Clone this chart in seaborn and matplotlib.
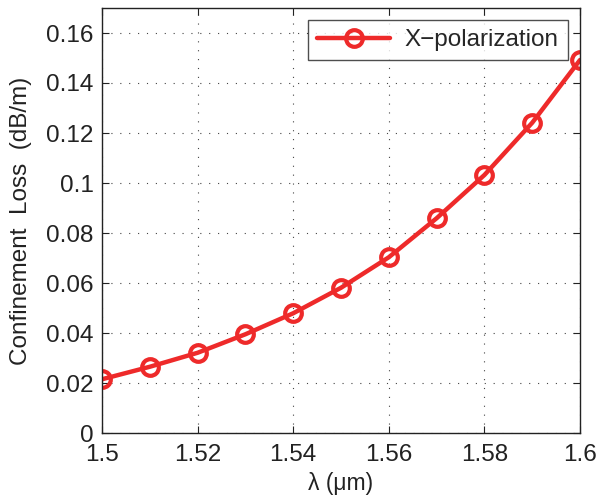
import matplotlib
matplotlib.use("Agg")
import matplotlib.pyplot as plt
import seaborn as sns
import pandas as pd

wavelength = [1.50, 1.51, 1.52, 1.53, 1.54, 1.55, 1.56, 1.57, 1.58, 1.59, 1.60]
loss = [0.0215, 0.0265, 0.0321, 0.0395, 0.0479, 0.0581, 0.0703, 0.0859, 0.1032, 0.1241, 0.1492]
series_name = "X\u2212polarization"
xticks = [1.50, 1.52, 1.54, 1.56, 1.58, 1.60]
xticklabels = ["1.5", "1.52", "1.54", "1.56", "1.58", "1.6"]
yticks = [0, 0.02, 0.04, 0.06, 0.08, 0.10, 0.12, 0.14, 0.16]
yticklabels = ["0", "0.02", "0.04", "0.06", "0.08", "0.1", "0.12", "0.14", "0.16"]

sns.set_theme(style="white")
plt.rcParams['font.family'] = ['Liberation Sans', 'DejaVu Sans']

df = pd.DataFrame({"wl": wavelength, "loss": loss, "series": series_name})

fig = plt.figure(figsize=(5.97, 5.00), dpi=100)
ax = fig.add_axes([0.171, 0.134, 0.8005, 0.85])

sns.lineplot(data=df, x="wl", y="loss", hue="series", palette=["#EE2A2A"],
             marker="o", markersize=12, markerfacecolor="none",
             markeredgewidth=3, markeredgecolor="#EE2A2A",
             linewidth=3.2, ax=ax)

ax.set_xlim(1.5, 1.6)
ax.set_ylim(0, 0.17)
ax.set_xticks(xticks)
ax.set_xticklabels(xticklabels)
ax.set_yticks(yticks)
ax.set_yticklabels(yticklabels)
ax.tick_params(direction="in", length=5, width=0.8, colors="#222222",
               labelsize=17.5, top=True, right=True, bottom=True, left=True)
ax.tick_params(axis="x", pad=8)
ax.tick_params(axis="y", pad=6)
for s in ax.spines.values():
    s.set_color("#222222")
    s.set_linewidth(1.0)
ax.grid(True, linestyle=(0, (1, 7)), color="#444444", linewidth=0.8)
ax.set_xlabel("\u03bb (\u03bcm)", fontsize=16.5, color="#222222", labelpad=4)
ax.set_ylabel("Confinement  Loss  (dB/m)", fontsize=17.5, color="#222222", labelpad=10)

leg = ax.legend(loc="upper right", fontsize=17.5, frameon=True, fancybox=False,
                edgecolor="#222222", handlelength=3.0, borderpad=0.38,
                handletextpad=0.6, borderaxespad=0,
                bbox_to_anchor=(0.975, 0.972))
leg.get_frame().set_linewidth(1.0)

fig.savefig("out.png", dpi=100, facecolor="white")
